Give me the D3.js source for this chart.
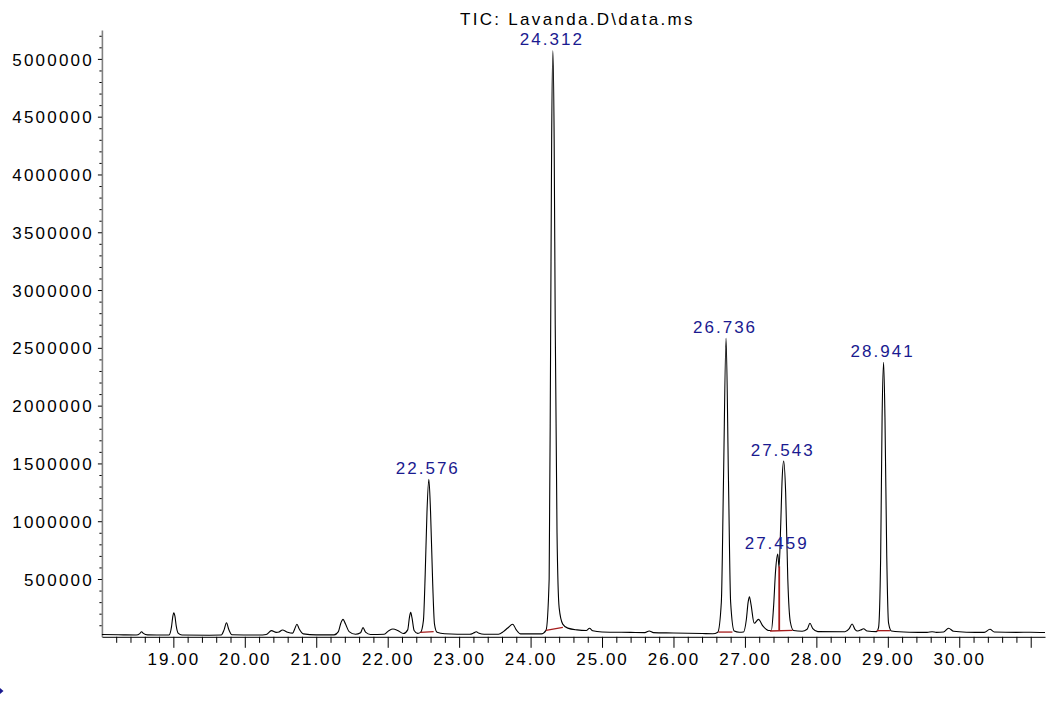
<!DOCTYPE html>
<html>
<head>
<meta charset="utf-8">
<script src="https://cdn.jsdelivr.net/npm/d3@7"></script>
<style>
  body { margin: 0; background: #fff; }
  text { font-family: "Liberation Sans", Arial, sans-serif; }
</style>
</head>
<body>
<div id="my_dataviz"></div>
<script>
// chart data
const title = "TIC: Lavanda.D\\data.ms";
const xMajorTicks = [19, 20, 21, 22, 23, 24, 25, 26, 27, 28, 29, 30, 31];
const xLabelTicks = [19, 20, 21, 22, 23, 24, 25, 26, 27, 28, 29, 30];
const yLabelTicks = [500000, 1000000, 1500000, 2000000, 2500000, 3000000, 3500000, 4000000, 4500000, 5000000];

// retention time (min), abundance
const trace = [
  [18.00, 20000], [18.30, 17000], [18.48, 16000], [18.53, 28000], [18.555, 44000], [18.58, 30000],
  [18.64, 17000], [18.90, 15000], [18.94, 16000], [18.975, 90000], [18.992, 175000], [19.007, 208000],
  [19.022, 178000], [19.04, 95000], [19.07, 30000], [19.12, 16000], [19.50, 14000], [19.67, 15000],
  [19.71, 60000], [19.744, 122000], [19.775, 65000], [19.82, 18000], [20.20, 15000], [20.30, 20000],
  [20.373, 53000], [20.44, 38000], [20.48, 42000], [20.527, 59000], [20.60, 40000], [20.67, 32000],
  [20.70, 70000], [20.73, 108000], [20.76, 70000], [20.82, 25000], [21.00, 17000], [21.25, 17000],
  [21.31, 45000], [21.345, 120000], [21.375, 151000], [21.41, 110000], [21.46, 45000], [21.55, 22000],
  [21.62, 35000], [21.655, 79000], [21.69, 40000], [21.76, 20000], [21.95, 22000], [22.02, 55000],
  [22.074, 67000], [22.14, 55000], [22.22, 28000], [22.28, 60000], [22.305, 170000], [22.322, 212000],
  [22.34, 165000], [22.37, 55000], [22.42, 30000], [22.46, 38000], [22.50, 140000], [22.525, 540000],
  [22.55, 1080000], [22.576, 1363000], [22.60, 1080000], [22.63, 460000], [22.655, 110000], [22.69, 40000],
  [22.80, 27000], [23.15, 22000], [23.20, 32000], [23.24, 44000], [23.28, 30000], [23.35, 22000],
  [23.55, 22000], [23.62, 45000], [23.68, 76000], [23.75, 108000], [23.80, 60000], [23.86, 25000],
  [24.15, 25000], [24.216, 56000], [24.26, 500000], [24.28, 2500000], [24.295, 4300000], [24.312, 5070000],
  [24.33, 4300000], [24.345, 2700000], [24.37, 900000], [24.40, 250000], [24.45, 110000], [24.52, 75000],
  [24.65, 60000], [24.78, 55000], [24.825, 74000], [24.87, 52000], [25.00, 42000], [25.40, 38000],
  [25.60, 36000], [25.66, 50000], [25.72, 36000], [26.00, 33000], [26.40, 28000], [26.55, 26000],
  [26.62, 40000], [26.67, 300000], [26.70, 1350000], [26.736, 2583000], [26.77, 1350000], [26.80, 300000],
  [26.85, 50000], [26.92, 40000], [26.98, 42000], [27.02, 150000], [27.045, 300000], [27.063, 347000],
  [27.085, 280000], [27.13, 117000], [27.19, 151000], [27.25, 95000], [27.33, 55000], [27.37, 55000],
  [27.40, 250000], [27.43, 580000], [27.459, 716000], [27.478, 600000], [27.50, 950000], [27.522, 1380000],
  [27.543, 1521000], [27.57, 1250000], [27.60, 500000], [27.635, 130000], [27.68, 55000], [27.80, 48000],
  [27.87, 65000], [27.91, 117000], [27.95, 70000], [28.02, 45000], [28.40, 44000], [28.46, 70000],
  [28.50, 111000], [28.54, 65000], [28.58, 50000], [28.62, 58000], [28.66, 70000], [28.71, 50000],
  [28.84, 45000], [28.87, 80000], [28.90, 700000], [28.92, 1900000], [28.941, 2375000], [28.96, 1900000],
  [28.985, 700000], [29.01, 120000], [29.05, 50000], [29.30, 40000], [29.55, 38000], [29.62, 44000],
  [29.68, 38000], [29.78, 42000], [29.85, 74000], [29.92, 48000], [30.10, 40000], [30.35, 38000],
  [30.43, 65000], [30.49, 42000], [30.80, 38000], [31.00, 40000], [31.20, 37000]
];

// labelled peaks
const peakTimes = [22.576, 24.312, 26.736, 27.459, 27.543, 28.941];
const peakHeights = [1363000, 5070000, 2583000, 716000, 1521000, 2375000];

// integration baselines [t1, a1, t2, a2] and drop lines [t, top, bottom]
const integBase = [
  [22.457, 39000, 22.643, 44000],
  [24.216, 56000, 24.452, 82000],
  [26.63, 41000, 26.825, 41000],
  [27.352, 50000, 27.668, 55000],
  [28.843, 53000, 29.03, 53000]
];
const dropLines = [[27.48, 610000, 52000]];

const W = 1046, H = 701;
const margin = { top: 30, right: 1, bottom: 64.2, left: 101.9 };

const svg = d3
  .select("#my_dataviz")
  .append("svg")
  .attr("width", W)
  .attr("height", H);

const x = d3.scaleLinear().domain([18, 31.2]).range([margin.left, W - margin.right]);
const y = d3.scaleLinear().domain([0, 5250000]).range([H - margin.bottom, margin.top]);

// title
svg
  .append("text")
  .attr("x", 460)
  .attr("y", 25)
  .attr("font-size", "17px")
  .attr("letter-spacing", "2.3px")
  .attr("fill", "#000")
  .text(title);

// X axis: minor ticks every 0.2 min
const xMinor = d3.range(18.2, 31.1, 0.2).filter(function (d) {
  return Math.abs(d - Math.round(d)) > 0.01;
});
svg
  .append("g")
  .attr("transform", `translate(0, ${y(0)})`)
  .call(d3.axisBottom(x).tickValues(xMinor).tickSize(6).tickSizeOuter(0).tickFormat(""))
  .call(function (g) { g.select(".domain").remove(); });

const xAxis = svg
  .append("g")
  .attr("transform", `translate(0, ${y(0)})`)
  .call(
    d3.axisBottom(x)
      .tickValues(xMajorTicks)
      .tickSize(11)
      .tickSizeOuter(0)
      .tickPadding(5)
      .tickFormat(function (d) {
        return xLabelTicks.indexOf(d) >= 0 ? d3.format(".2f")(d) : "";
      })
  );
xAxis.selectAll("text")
  .attr("font-size", "17px")
  .attr("font-family", "Liberation Sans, Arial, sans-serif")
  .attr("letter-spacing", "2px")
  .attr("fill", "#000");
xAxis.select(".domain").attr("stroke", "#000");

// Y axis: minor ticks every 100000
const yMinor = d3.range(100000, 5250000, 100000).filter(function (d) {
  return d % 500000 !== 0;
});
svg
  .append("g")
  .attr("transform", `translate(${x(18)}, 0)`)
  .call(d3.axisLeft(y).tickValues(yMinor).tickSize(2.5).tickSizeOuter(0).tickFormat(""))
  .call(function (g) { g.select(".domain").remove(); });

const yAxis = svg
  .append("g")
  .attr("transform", `translate(${x(18)}, 0)`)
  .call(
    d3.axisLeft(y)
      .tickValues(yLabelTicks)
      .tickSize(4)
      .tickSizeOuter(0)
      .tickPadding(4)
      .tickFormat(d3.format("d"))
  );
yAxis.selectAll("text")
  .attr("font-size", "17px")
  .attr("font-family", "Liberation Sans, Arial, sans-serif")
  .attr("letter-spacing", "2.2px")
  .attr("dy", "0.36em")
  .attr("fill", "#000");
yAxis.select(".domain").attr("stroke", "#808080").attr("stroke-width", 1.6);

// the chromatogram
const line = d3
  .line()
  .x(function (d) { return x(d[0]); })
  .y(function (d) { return y(d[1]); })
  .curve(d3.curveMonotoneX);

svg
  .append("path")
  .datum(trace)
  .attr("fill", "none")
  .attr("stroke", "#000")
  .attr("stroke-width", 1.1)
  .attr("d", line);

// integration baselines
svg
  .append("g")
  .selectAll("line")
  .data(integBase)
  .join("line")
  .attr("x1", function (d) { return x(d[0]); })
  .attr("y1", function (d) { return y(d[1]); })
  .attr("x2", function (d) { return x(d[2]); })
  .attr("y2", function (d) { return y(d[3]); })
  .attr("stroke", "#a51c1c")
  .attr("stroke-width", 1.3);

svg
  .append("g")
  .selectAll("line")
  .data(dropLines)
  .join("line")
  .attr("x1", function (d) { return x(d[0]); })
  .attr("x2", function (d) { return x(d[0]); })
  .attr("y1", function (d) { return y(d[1]); })
  .attr("y2", function (d) { return y(d[2]); })
  .attr("stroke", "#a51c1c")
  .attr("stroke-width", 1.8);

// peak labels
svg
  .append("g")
  .selectAll("text")
  .data(peakTimes)
  .join("text")
  .attr("x", function (d) { return x(d) - 1; })
  .attr("y", function (d, i) { return y(peakHeights[i]) - 5.5; })
  .attr("text-anchor", "middle")
  .attr("font-size", "17px")
  .attr("letter-spacing", "2px")
  .attr("fill", "#1a1a90")
  .text(function (d) { return d3.format(".3f")(d); });

// cursor marker at the lower left
svg
  .append("path")
  .attr("d", "M0,688 L3.5,691 L0,694 Z")
  .attr("fill", "#1a1a90");
</script>
</body>
</html>
